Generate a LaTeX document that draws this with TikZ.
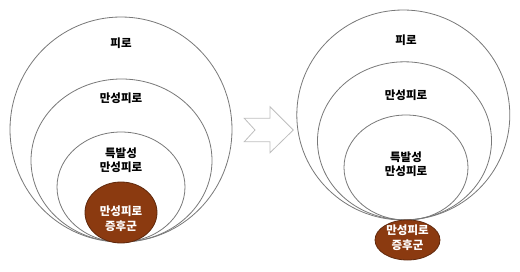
\documentclass[tikz,border=0pt]{standalone}
\usepackage{fontspec}
\usepackage{xcolor}
\newfontfamily\kr{Noto Sans CJK KR}
\usetikzlibrary{shapes.geometric}
\definecolor{ringgray}{RGB}{120,120,120}
\definecolor{corebrown}{RGB}{139,58,16}
\definecolor{coreedge}{RGB}{95,40,12}
\definecolor{arrowgray}{RGB}{190,190,190}

\begin{document}
\begin{tikzpicture}[x=1pt,y=-1pt,
  ring/.style={ellipse,draw=ringgray,line width=0.8pt,inner sep=0pt,outer sep=0pt},
  core/.style={ellipse,draw=coreedge,fill=corebrown,line width=0.8pt,inner sep=0pt,outer sep=0pt},
  lbl/.style={font=\kr\bfseries\fontsize{11.5}{14}\selectfont,align=center},
  corelbl/.style={lbl,text=white,font=\kr\bfseries\fontsize{11.5}{15}\selectfont}]
\useasboundingbox (0,0) rectangle (520,271);
% left group
\node[ring,minimum width=222pt,minimum height=225pt] (fatigueL) at (121,129.5) {};
\node[ring,minimum width=181pt,minimum height=163pt] (chronicL) at (121.5,160.5) {};
\node[ring,minimum width=128pt,minimum height=110pt] (idioL) at (121,187) {};
\node[core,minimum width=72pt,minimum height=61pt] (cfsL) at (121,212.5) {};
\node[lbl] (fatigueLtxt) at (121,43) {피로};
\node[lbl] (chronicLtxt) at (121,98) {만성피로};
\node[lbl] (idioLtxt) at (121,160) {특발성\\만성피로};
\node[corelbl] (cfsLtxt) at (121,218.5) {만성피로\\증후군};
% arrow
\draw[arrowgray,line width=0.8pt,line join=miter] (244.3,118.3)--(270,118.3)--(270,106.7)--(293.3,130)--(270,152.7)--(270,141.7)--(244.3,141.7)--(255,130)--cycle;
% right group
\node[ring,minimum width=213pt,minimum height=210pt] (fatigueR) at (403.3,115) {};
\node[ring,minimum width=174pt,minimum height=158pt] (chronicR) at (404.5,140.8) {};
\node[ring,minimum width=124pt,minimum height=105pt] (idioR) at (406,167.5) {};
\node[core,minimum width=65pt,minimum height=40pt] (cfsR) at (407.5,240) {};
\node[lbl] (fatigueRtxt) at (406,40) {피로};
\node[lbl] (chronicRtxt) at (406,95) {만성피로};
\node[lbl] (idioRtxt) at (406,164) {특발성\\만성피로};
\node[corelbl] (cfsRtxt) at (407.5,237.5) {만성피로\\증후군};
\end{tikzpicture}
\end{document}
